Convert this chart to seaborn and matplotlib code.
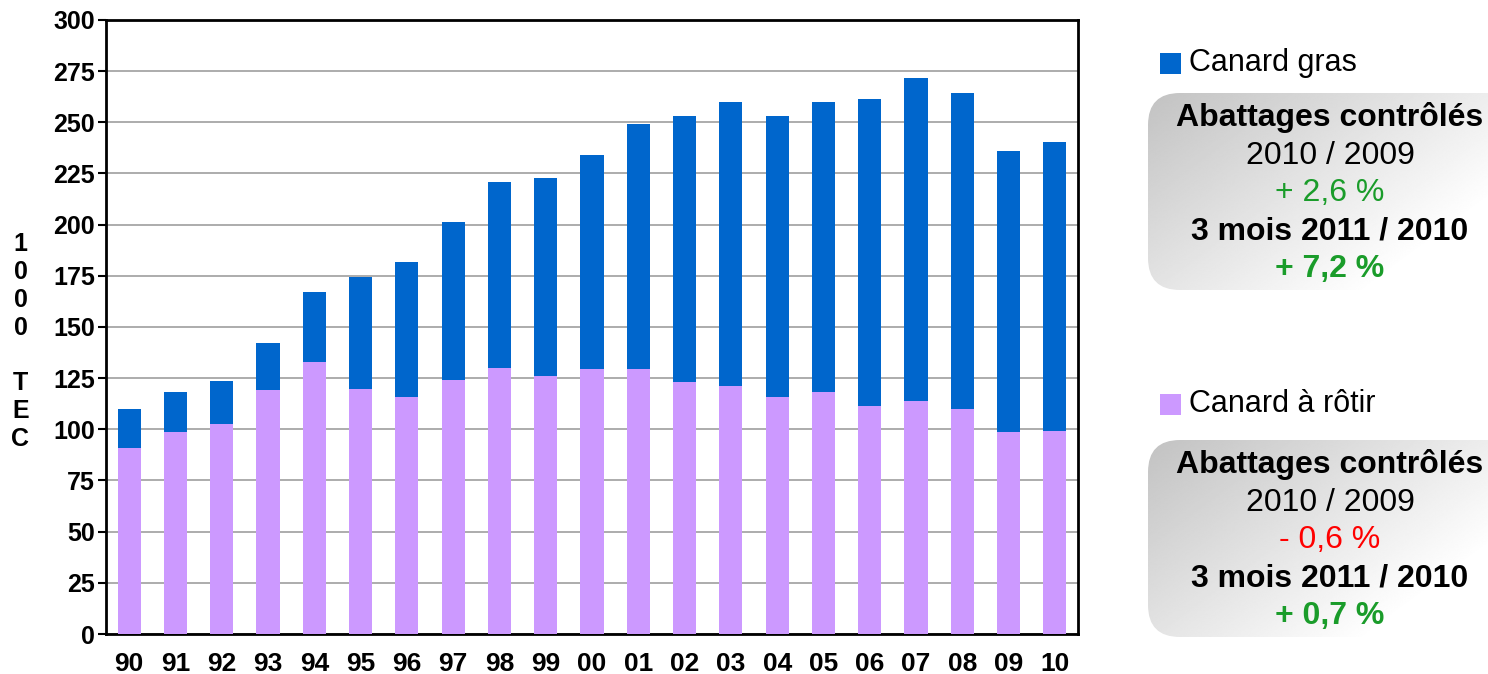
import numpy as np
import matplotlib
matplotlib.use("Agg")
import matplotlib.pyplot as plt
import seaborn as sns
import pandas as pd
from matplotlib.patches import FancyBboxPatch, Rectangle

annees = ["90", "91", "92", "93", "94", "95", "96", "97", "98", "99", "00",
          "01", "02", "03", "04", "05", "06", "07", "08", "09", "10"]
canard_roti = [91, 98.5, 102.5, 119, 132.7, 119.5, 116, 124, 130.2, 126.3, 129.3,
               129.3, 123, 121, 116, 118, 111.2, 113.7, 109.8, 98.5, 99]
canard_gras = [18.8, 19.5, 21, 23.4, 34.6, 55.1, 66, 77.5, 90.8, 96.7, 104.7,
               120, 130.2, 139, 137.2, 142, 150.3, 158, 154.6, 137.6, 141.5]
yticks = list(range(0, 301, 25))

bleu = "#0066CC"
violet = "#CC99FF"
vert = "#1a9c2a"
rouge = "#ff0000"

df = pd.DataFrame({"annee": annees, "roti": canard_roti, "gras": canard_gras})
df["total"] = df["roti"] + df["gras"]

sns.set_style("white")
plt.rcParams["font.family"] = ["Liberation Sans", "DejaVu Sans"]
plt.rcParams["text.color"] = "black"
plt.rcParams["xtick.color"] = "black"
plt.rcParams["ytick.color"] = "black"
plt.rcParams["axes.labelcolor"] = "black"

fig = plt.figure(figsize=(14.88, 6.74), dpi=100)
ax = fig.add_axes([106 / 1488, 40 / 674, 972 / 1488, 614 / 674])

# empilement : total en bleu puis rôtir par-dessus
sns.barplot(data=df, x="annee", y="total", color=bleu, width=0.5, saturation=1,
            linewidth=0, edgecolor="none", ax=ax, zorder=3)
sns.barplot(data=df, x="annee", y="roti", color=violet, width=0.5, saturation=1,
            linewidth=0, edgecolor="none", ax=ax, zorder=4)

ax.set_xlim(-0.5, len(annees) - 0.5)
ax.set_ylim(0, 300)
ax.set_yticks(yticks)
ax.set_yticklabels([str(v) for v in yticks], fontsize=18, fontweight="bold", color="black")
ax.set_xticks(range(len(annees)))
ax.set_xticklabels(annees, fontsize=19, fontweight="bold", color="black")
ax.set_xticks(np.arange(-0.5, len(annees), 1), minor=True)
ax.tick_params(axis="x", which="major", length=0, pad=13)
ax.tick_params(axis="x", which="minor", length=8, width=1.5, direction="out", color="black")
ax.tick_params(axis="y", length=6, width=1.5, direction="out", color="black", pad=2, left=True)
ax.yaxis.grid(True, color="#a6a6a6", lw=1.3, zorder=0)
ax.set_axisbelow(True)
for s in ax.spines.values():
    s.set_visible(True)
    s.set_color("black")
    s.set_linewidth(2)
ax.set_xlabel("")
ax.set_ylabel("1\n0\n0\n0\n\nT\nE\nC", rotation=0, fontsize=18, fontweight="bold",
              va="center", ha="center", linespacing=1.2, color="black")
ax.yaxis.set_label_coords(-0.088, 0.476)

# panneau de droite
ov = fig.add_axes([0, 0, 1, 1], zorder=-1)
ov.set_xlim(0, 1488)
ov.set_ylim(674, 0)
ov.axis("off")

grad = np.linspace(0, 1, 256)
gx, gy = np.meshgrid(grad, grad)
g = 0.76 + 0.24 * np.clip((gx * 0.8 + gy * 0.6) / 1.1, 0, 1)


def panneau(y0, y1, leg_y, couleur, nom, var, var_col, trim):
    ov.add_patch(Rectangle((1160, leg_y - 10), 21, 21, color=couleur, lw=0))
    ov.text(1189, leg_y, nom, fontsize=22, va="center", ha="left", color="black")
    box = FancyBboxPatch((1148, y0), 400, y1 - y0, boxstyle="round,pad=0,rounding_size=32",
                         fc="none", ec="none")
    ov.add_patch(box)
    im = ov.imshow(g, cmap="gray", vmin=0, vmax=1, extent=(1148, 1500, y1, y0),
                   aspect="auto", interpolation="bilinear")
    im.set_clip_path(box)
    h = (y1 - y0) / 5.2
    lignes = [("Abattages contrôlés", "bold", "black"),
              ("2010 / 2009", "normal", "black"),
              (var, "normal", var_col),
              ("3 mois 2011 / 2010", "bold", "black"),
              (trim, "bold", vert)]
    for i, (t, w, c) in enumerate(lignes):
        ov.text(1330, y0 + h * (i + 0.65), t, fontsize=23, fontweight=w, color=c,
                ha="center", va="center")


panneau(93, 290, 63, bleu, "Canard gras", "+ 2,6 %", vert, "+ 7,2 %")
panneau(440, 637, 404, violet, "Canard à rôtir", "- 0,6 %", rouge, "+ 0,7 %")
ov.set_xlim(0, 1488)
ov.set_ylim(674, 0)

fig.savefig("out.png", dpi=100, facecolor="white")
